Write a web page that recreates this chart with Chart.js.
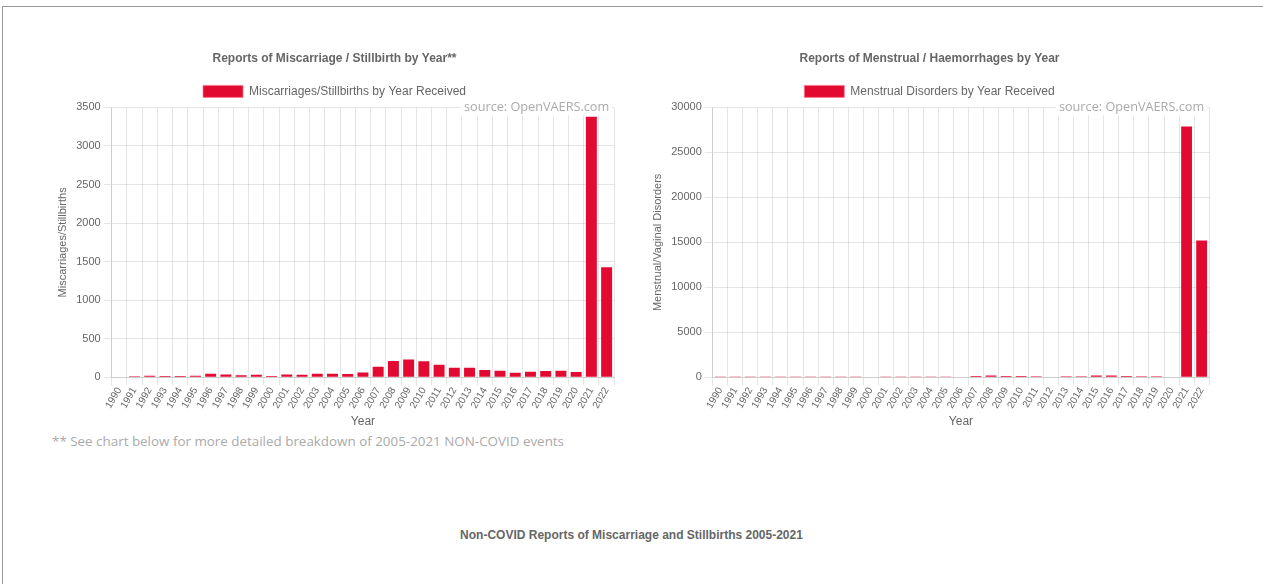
<!DOCTYPE html>
<html>
<head>
<meta charset="utf-8">
<script src="https://cdn.jsdelivr.net/npm/chart.js@4.4.1/dist/chart.umd.min.js"></script>
<style>
  html, body { margin:0; padding:0; background:#fff; overflow:hidden; }
  #frame { position:absolute; left:2px; top:6px; width:1300px; height:700px; border-top:1px solid #9a9a9a; border-left:1px solid #9a9a9a; }
  .box { position:absolute; top:41px; width:565px; height:388px; }
  #leftBox { left:52px; }
  #rightBox { left:647px; }
  #note { position:absolute; left:52px; top:432px; font:13.4px 'Open Sans', sans-serif; color:#aaa; }
  #below { position:absolute; left:0; width:1263px; top:528px; text-align:center; font:bold 12px 'Liberation Sans', Arial, sans-serif; color:#666; }
</style>
</head>
<body>
<div id="frame"></div>
<div class="box" id="leftBox"><canvas id="miscChart"></canvas></div>
<div class="box" id="rightBox"><canvas id="menChart"></canvas></div>
<div id="note">** See chart below for more detailed breakdown of 2005-2021 NON-COVID events</div>
<div id="below">Non-COVID Reports of Miscarriage and Stillbirths 2005-2021</div>
<script>
// years 1990..2022
const years = ['1990','1991','1992','1993','1994','1995','1996','1997','1998','1999',
  '2000','2001','2002','2003','2004','2005','2006','2007','2008','2009',
  '2010','2011','2012','2013','2014','2015','2016','2017','2018','2019',
  '2020','2021','2022'];

// Miscarriages / stillbirths by year received
const miscValues = [8,13,20,17,17,20,47,38,26,34,
  17,38,34,47,47,43,64,137,213,230,
  209,162,124,124,94,85,60,72,81,85,
  68,3380,1427];

// Menstrual disorders by year received
const menValues = [5,5,10,10,10,10,15,15,15,15,
  60,20,15,15,20,25,60,150,200,150,
  140,130,60,130,130,200,190,160,120,110,
  70,27870,15220];

const barRed = 'rgb(227,10,50)';

Chart.defaults.font.family = "'Liberation Sans', Arial, sans-serif";
Chart.defaults.font.size = 12;
Chart.defaults.color = '#666';

// "source: OpenVAERS.com" label in the top right corner of the plot
const sourcePlugin = {
  id: 'sourceLabel',
  afterDatasetsDraw(chart){
    const { ctx, chartArea } = chart;
    const txt = 'source: OpenVAERS.com';
    ctx.save();
    ctx.font = "12.7px 'Open Sans', sans-serif";
    const w = ctx.measureText(txt).width;
    const x = chartArea.right - 5;
    const y = chartArea.top;
    ctx.fillStyle = '#fff';
    ctx.fillRect(x - w - 3, y - 8, w + 6, 16);
    ctx.fillStyle = '#aaa';
    ctx.textAlign = 'right';
    ctx.textBaseline = 'middle';
    ctx.fillText(txt, x, y);
    ctx.restore();
  }
};

function makeChart(id, title, legend, yTitle, values, max, step){
  return new Chart(document.getElementById(id), {
    type: 'bar',
    data: {
      labels: years,
      datasets: [{
        label: legend,
        data: values,
        backgroundColor: barRed,
        borderWidth: 0
      }]
    },
    options: {
      responsive: true,
      maintainAspectRatio: false,
      animation: false,
      plugins: {
        title: { display: true, text: title, font: { size: 12, weight: 'bold' }, padding: 10 },
        legend: { labels: { boxWidth: 40, boxHeight: 12, padding: 10,
          generateLabels: (c)=> [{ text: legend, fillStyle: barRed, strokeStyle: 'rgba(255,120,140,0.7)', lineWidth: 1, fontColor: '#666', datasetIndex: 0 }] } },
        tooltip: { enabled: false }
      },
      scales: {
        x: {
          grid: { color: 'rgba(0,0,0,0.1)', tickLength: 8 },
          ticks: { autoSkip: false, minRotation: 60, maxRotation: 60, padding: 0, font: { size: 10 } },
          title: { display: true, text: 'Year', padding: { top: 4, bottom: 0 } }
        },
        y: {
          min: 0, max: max,
          grid: { color: 'rgba(0,0,0,0.1)' },
          ticks: { stepSize: step, font: { size: 11 }, callback: (v)=> String(v) },
          title: { display: true, text: yTitle, font: { size: 11 } }
        }
      }
    },
    plugins: [sourcePlugin]
  });
}

makeChart('miscChart', 'Reports of Miscarriage / Stillbirth by Year**',
  'Miscarriages/Stillbirths by Year Received', 'Miscarriages/Stillbirths', miscValues, 3500, 500);
makeChart('menChart', 'Reports of Menstrual / Haemorrhages by Year',
  'Menstrual Disorders by Year Received', 'Menstrual/Vaginal Disorders', menValues, 30000, 5000);
</script>
</body>
</html>
